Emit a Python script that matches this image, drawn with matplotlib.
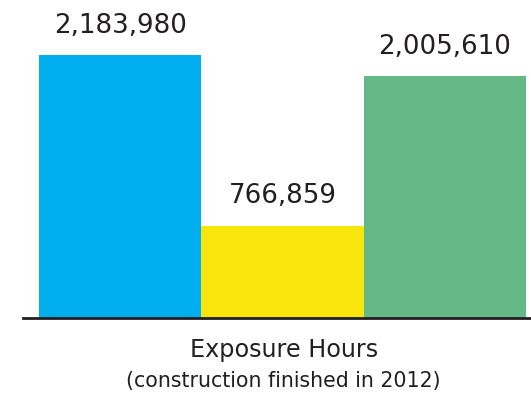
import matplotlib
matplotlib.use("Agg")
import matplotlib.pyplot as plt

# data
categories = ["A", "B", "C"]
hours = [2183980, 766859, 2005610]
bar_colors = ["#00AEEF", "#F8E50B", "#63B886"]
title = "Exposure Hours"
subtitle = "(construction finished in 2012)"

txt = "#231F20"
plt.rcParams['font.family'] = ['DejaVu Sans']

fig = plt.figure(figsize=(5.31, 3.93), dpi=100)
# axes spans from the baseline up to the top of the figure
ax = fig.add_axes([23 / 531, 1 - 318 / 393, 508 / 531, 318 / 393])

x = range(len(categories))
bars = ax.bar(x, hours, width=1.0, color=bar_colors, linewidth=0)

for b, v in zip(bars, hours):
    ax.annotate(f"{v:,}", (b.get_x() + b.get_width() / 2, v),
                xytext=(0, 16), textcoords="offset points",
                ha="center", va="baseline", fontsize=18.8, color=txt)

ax.set_xlim(-0.5 - 16 / 162.5, 2.5 + 5 / 162.5)
ax.set_ylim(0, max(hours) * 318 / 263)

for s in ["top", "right", "left"]:
    ax.spines[s].set_visible(False)
ax.spines["bottom"].set_linewidth(2)
ax.spines["bottom"].set_color(txt)
ax.set_xticks([])
ax.set_yticks([])

fig.text(284 / 531, 1 - 357 / 393, title, ha="center", va="baseline",
         fontsize=17.2, color=txt)
fig.text(283 / 531, 1 - 387 / 393, subtitle, ha="center", va="baseline",
         fontsize=14.8, color=txt)

fig.savefig("out.png", dpi=100)
